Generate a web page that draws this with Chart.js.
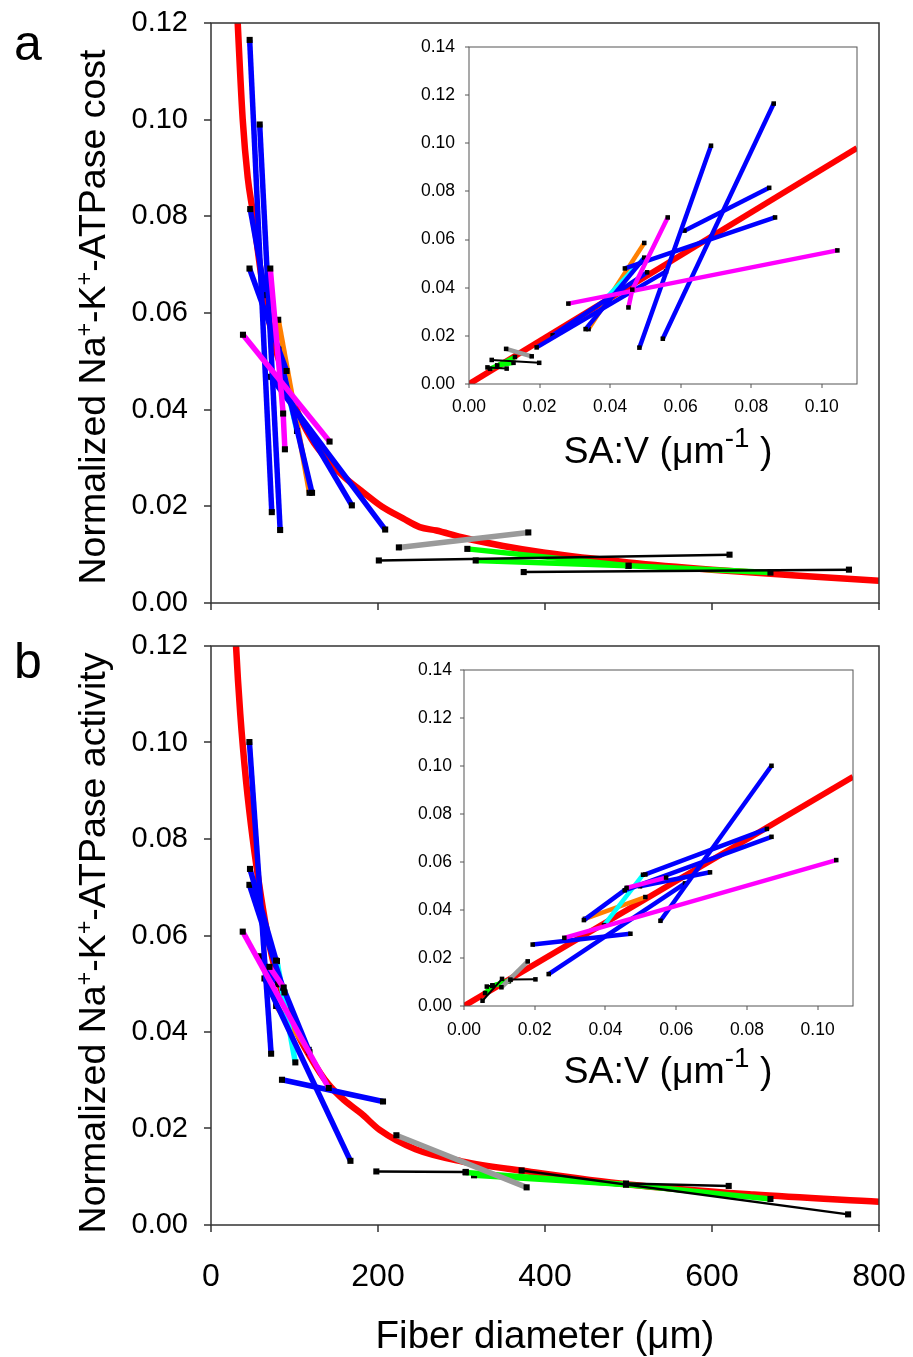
<!DOCTYPE html>
<html><head><meta charset="utf-8">
<script src="https://cdn.jsdelivr.net/npm/chart.js@4.4.1/dist/chart.umd.min.js"></script>
<style>
html,body{margin:0;padding:0;background:#fff;}
#wrap{position:relative;width:913px;height:1357px;overflow:hidden;font-family:"Liberation Sans",Arial,sans-serif;color:#000;}
canvas{position:absolute;}
.t{position:absolute;white-space:nowrap;line-height:1;}
sup{font-size:0.62em;vertical-align:0.55em;line-height:0;}
.sav sup{font-size:0.74em;vertical-align:0.6em;}
</style></head><body><div id="wrap">
<canvas id="mainA" width="913" height="640" style="left:0;top:0"></canvas>
<canvas id="mainB" width="913" height="700" style="left:0;top:620px"></canvas>
<canvas id="insetA" width="480" height="400" style="left:400px;top:30px"></canvas>
<canvas id="insetB" width="480" height="400" style="left:395px;top:650px"></canvas>
<div class="t" style="left:14px;top:18px;font-size:50px">a</div>
<div class="t" style="left:14px;top:636px;font-size:50px">b</div>
<div class="t" style="left:93px;top:317px;font-size:37.5px;transform:translate(-50%,-50%) rotate(-90deg)">Normalized Na<sup>+</sup>-K<sup>+</sup>-ATPase cost</div>
<div class="t" style="left:93px;top:943px;font-size:37.5px;transform:translate(-50%,-50%) rotate(-90deg)">Normalized Na<sup>+</sup>-K<sup>+</sup>-ATPase activity</div>
<div class="t" style="left:545px;top:1335px;font-size:38.5px;transform:translate(-50%,-50%)">Fiber diameter (μm)</div>
<div class="t sav" style="left:668px;top:451px;font-size:37.5px;transform:translate(-50%,-50%)">SA:V (μm<sup>-1</sup> )</div>
<div class="t sav" style="left:668px;top:1071px;font-size:37.5px;transform:translate(-50%,-50%)">SA:V (μm<sup>-1</sup> )</div>
</div>
<script>
// ================= DATA =================
// Tick labels
const mainXTicks = [0, 200, 400, 600, 800];
const mainYTicks = [0, 0.02, 0.04, 0.06, 0.08, 0.10, 0.12];
const insetXTicks = [0, 0.02, 0.04, 0.06, 0.08, 0.10];
const insetYTicks = [0, 0.02, 0.04, 0.06, 0.08, 0.10, 0.12, 0.14];

// ---- Panel a: Na+-K+-ATPase cost; points are [fiber diameter (µm), value] ----
const costFitDiameter = [30, 32, 38, 44, 50, 60, 70, 80, 100, 120, 140, 160, 180, 205, 230, 250, 270, 300, 350, 400, 500, 600, 700, 800];
const costFitValue    = [0.128, 0.120, 0.100, 0.088, 0.081, 0.068, 0.058, 0.051, 0.041, 0.034, 0.0295, 0.026, 0.0232, 0.0199, 0.0175, 0.0157, 0.0150, 0.0136, 0.0118, 0.0104, 0.0084, 0.0069, 0.0057, 0.0046];
const costBlue = [
  [[46.3, 0.1165], [72.8, 0.0188]],
  [[58.3, 0.0990], [82.8, 0.0151]],
  [[47.0, 0.0815], [65.5, 0.0637]],
  [[46.1, 0.0692], [90.5, 0.0480]],
  [[71.6, 0.0468], [208.6, 0.0152]],
  [[79.2, 0.0464], [168.7, 0.0202]],
  [[80.5, 0.0524], [121.0, 0.0228]]
];
const costMagenta = [
  [[71.0, 0.0692], [86.4, 0.0392], [88.5, 0.0318]],
  [[38.3, 0.0555], [142.0, 0.0334]]
];
const costOrange = [[[80.5, 0.0586], [118.0, 0.0228]]];
const costCyan   = [[[80.5, 0.0524], [103.0, 0.0356]]];
const costGray   = [[[225.0, 0.0115], [380.0, 0.0146]]];
const costGreen  = [
  [[307.0, 0.0112], [500.0, 0.0077]],
  [[317.0, 0.0088], [500.0, 0.0077], [670.0, 0.0063]]
];
const costBlack  = [
  [[201.0, 0.0088], [621.0, 0.0100]],
  [[374.5, 0.0064], [764.0, 0.0069]]
];
const costInsetFitSAV   = [0, 0.11];
const costInsetFitValue = [0, 0.098];

// ---- Panel b: Na+-K+-ATPase activity ----
const actFitDiameter = [28, 30, 35, 42, 50, 60, 70, 80, 100, 120, 140, 160, 180, 202, 245, 300, 380, 500, 650, 800];
const actFitValue    = [0.128, 0.120, 0.106, 0.092, 0.080, 0.068, 0.058, 0.051, 0.041, 0.0345, 0.0293, 0.0258, 0.0231, 0.0197, 0.0157, 0.0132, 0.0111, 0.0084, 0.0063, 0.0048];
const actBlue = [
  [[46.0, 0.1001], [72.0, 0.0355]],
  [[46.7, 0.0738], [78.0, 0.0548]],
  [[46.0, 0.0705], [88.0, 0.0482]],
  [[57.5, 0.0557], [80.4, 0.0499]],
  [[64.0, 0.0511], [167.0, 0.0133]],
  [[85.0, 0.0301], [206.0, 0.0256]],
  [[86.4, 0.0492], [118.0, 0.0358]]
];
const actMagenta = [
  [[38.0, 0.0608], [141.0, 0.0284]],
  [[70.0, 0.0535], [87.0, 0.0492]]
];
const actOrange = [[[78.0, 0.0454], [117.0, 0.0363]]];
const actCyan   = [[[79.0, 0.0547], [101.0, 0.0337]]];
const actGray   = [[[222.0, 0.0186], [378.0, 0.0078]]];
const actGreen  = [
  [[305.0, 0.0109], [497.0, 0.0084]],
  [[315.0, 0.0103], [497.0, 0.0084], [670.0, 0.0054]]
];
const actBlack  = [
  [[198.0, 0.0111], [305.0, 0.0110]],
  [[372.0, 0.0113], [763.0, 0.0022]],
  [[497.0, 0.0086], [620.0, 0.0081]]
];
const actInsetFitSAV   = [0, 0.11];
const actInsetFitValue = [0, 0.0955];

// ================= STYLE / RENDER =================
const FONT = '"Liberation Sans", Arial, sans-serif';
const STYLE = {
  orange:  {color: '#ff8000', w: 5.5, wi: 4.5, order: 7},
  cyan:    {color: '#00ffff', w: 5.5, wi: 4.5, order: 6},
  blue:    {color: '#0000ff', w: 5.5, wi: 4.5, order: 5},
  magenta: {color: '#ff00ff', w: 5.5, wi: 4.5, order: 4},
  green:   {color: '#00ff00', w: 5.5, wi: 4.5, order: 3},
  gray:    {color: '#9a9a9a', w: 5.5, wi: 4.5, order: 2},
  black:   {color: '#000000', w: 2.5, wi: 2, order: 1}
};
// SA:V of a cylindrical fiber = 4 / diameter
const toSAV = d => 4 / d;
const ident = d => d;

function groupSets(groups, xf, inset) {
  const out = [];
  for (const [name, lines] of groups) {
    const st = STYLE[name];
    for (const pts of lines) {
      out.push({
        data: pts.map(p => ({x: xf(p[0]), y: p[1]})),
        showLine: true, borderColor: st.color, backgroundColor: '#000',
        borderWidth: inset ? st.wi : st.w,
        pointStyle: 'rect', pointRadius: inset ? 3.2 : 4.3, pointHoverRadius: 0,
        pointBackgroundColor: '#000', pointBorderWidth: 0,
        order: st.order, tension: 0, fill: false, clip: 0
      });
    }
  }
  return out;
}
function fitSet(xs, ys, w) {
  return {
    data: xs.map((x, i) => ({x: x, y: ys[i]})),
    showLine: true, borderColor: '#ff0000', borderWidth: w, pointRadius: 0,
    cubicInterpolationMode: 'monotone', order: 100, fill: false, clip: 0
  };
}
// gap = distance from axis line to label; visible tick marks are drawn by the frame plugin
function axis(min, max, ticksArr, fmt, o) {
  return {
    type: 'linear', min: min, max: max,
    afterBuildTicks: s => { s.ticks = ticksArr.map(v => ({value: v})); },
    afterFit: s => { if (o.w != null) s.width = o.w; if (o.h != null) s.height = o.h; },
    grid: {display: true, drawOnChartArea: false, drawTicks: true, tickLength: o.gap,
           color: 'rgba(0,0,0,0)', tickColor: 'rgba(0,0,0,0)'},
    border: {display: false},
    ticks: {padding: 3, color: '#000', autoSkip: false, maxRotation: 0,
            font: {family: FONT, size: o.fs}, callback: v => (o.labels ? fmt(v) : '')}
  };
}
const framePlugin = {
  id: 'frame',
  beforeDraw(chart, args, opts) {
    if (!opts.fill) return;
    const a = chart.chartArea, ctx = chart.ctx;
    ctx.save(); ctx.fillStyle = '#fff';
    ctx.fillRect(a.left, a.top, a.right - a.left, a.bottom - a.top); ctx.restore();
  },
  afterDraw(chart, args, opts) {
    const a = chart.chartArea, ctx = chart.ctx;
    ctx.save(); ctx.strokeStyle = opts.color; ctx.lineWidth = opts.width;
    ctx.beginPath();
    for (const t of chart.scales.x.ticks) {
      const px = Math.round(chart.scales.x.getPixelForValue(t.value));
      ctx.moveTo(px, a.bottom); ctx.lineTo(px, a.bottom + opts.tick);
    }
    for (const t of chart.scales.y.ticks) {
      const py = Math.round(chart.scales.y.getPixelForValue(t.value));
      ctx.moveTo(a.left - opts.tick, py); ctx.lineTo(a.left, py);
    }
    ctx.stroke();
    ctx.strokeRect(a.left, a.top, a.right - a.left, a.bottom - a.top); ctx.restore();
  }
};
function make(id, datasets, xs, ys, pad, frame) {
  return new Chart(document.getElementById(id), {
    type: 'scatter',
    data: {datasets: datasets},
    options: {
      responsive: false, animation: false, devicePixelRatio: 1,
      layout: {padding: pad, autoPadding: false},
      plugins: {legend: {display: false}, tooltip: {enabled: false}, frame: frame},
      scales: {x: xs, y: ys}
    },
    plugins: [framePlugin]
  });
}
const f0 = v => String(Math.round(v));
const f2 = v => v.toFixed(2);

const costGroups = [['orange', costOrange], ['cyan', costCyan], ['blue', costBlue], ['magenta', costMagenta], ['green', costGreen], ['gray', costGray], ['black', costBlack]];
const actGroups  = [['orange', actOrange], ['cyan', actCyan], ['blue', actBlue], ['magenta', actMagenta], ['green', actGreen], ['gray', actGray], ['black', actBlack]];

const mainC = '#333', insetC = '#555';
// Panel a main: plot area x 211..879, y 23..603
make('mainA',
  [fitSet(costFitDiameter, costFitValue, 6.5)].concat(groupSets(costGroups, ident, false)),
  axis(0, 800, mainXTicks, f0, {h: 37, gap: 30, fs: 32, labels: false}),
  axis(0, 0.12, mainYTicks, f2, {w: 211, gap: 20, fs: 29, labels: true}),
  {top: 23, right: 34, left: 0, bottom: 0}, {color: mainC, width: 1.5, tick: 7, fill: false});
// Panel b main: plot area x 211..879, y 646..1225
make('mainB',
  [fitSet(actFitDiameter, actFitValue, 6.5)].concat(groupSets(actGroups, ident, false)),
  axis(0, 800, mainXTicks, f0, {h: 95, gap: 30, fs: 32, labels: true}),
  axis(0, 0.12, mainYTicks, f2, {w: 211, gap: 20, fs: 29, labels: true}),
  {top: 26, right: 34, left: 0, bottom: 0}, {color: mainC, width: 1.5, tick: 7, fill: false});
// Inset a: plot area x 469..857, y 47..384
make('insetA',
  [fitSet(costInsetFitSAV, costInsetFitValue, 6)].concat(groupSets(costGroups, toSAV, true)),
  axis(0, 0.11, insetXTicks, f2, {h: 46, gap: 9.5, fs: 17.5, labels: true}),
  axis(0, 0.14, insetYTicks, f2, {w: 69, gap: 11, fs: 17.5, labels: true}),
  {top: 17, right: 23, left: 0, bottom: 0}, {color: insetC, width: 1, tick: 4, fill: true});
// Inset b: plot area x 464..853, y 670..1006
make('insetB',
  [fitSet(actInsetFitSAV, actInsetFitValue, 6)].concat(groupSets(actGroups, toSAV, true)),
  axis(0, 0.11, insetXTicks, f2, {h: 44, gap: 11, fs: 17.5, labels: true}),
  axis(0, 0.14, insetYTicks, f2, {w: 69, gap: 9, fs: 17.5, labels: true}),
  {top: 20, right: 22, left: 0, bottom: 0}, {color: insetC, width: 1, tick: 4, fill: true});
</script>
</body></html>
